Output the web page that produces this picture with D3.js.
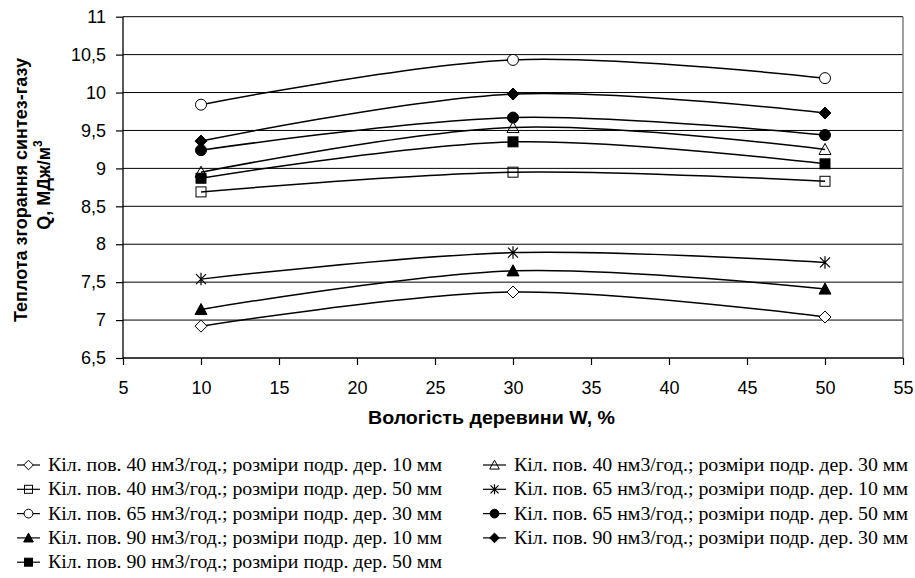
<!DOCTYPE html>
<html>
<head>
<meta charset="utf-8">
<script src="https://cdn.jsdelivr.net/npm/d3@7"></script>
<style>
  html, body { margin: 0; padding: 0; background: #fff; }
  svg { display: block; }
</style>
</head>
<body>
<svg id="chart" width="915" height="578"></svg>
<script>
// ---- Data ----
const moisture = [10, 30, 50];
const xTicks = [5, 10, 15, 20, 25, 30, 35, 40, 45, 50, 55];
const yTicks = [6.5, 7, 7.5, 8, 8.5, 9, 9.5, 10, 10.5, 11];

const seriesNames = [
  "Кіл. пов. 40 нм3/год.; розміри подр. дер. 10 мм",
  "Кіл. пов. 40 нм3/год.; розміри подр. дер. 50 мм",
  "Кіл. пов. 65 нм3/год.; розміри подр. дер. 30 мм",
  "Кіл. пов. 90 нм3/год.; розміри подр. дер. 10 мм",
  "Кіл. пов. 90 нм3/год.; розміри подр. дер. 50 мм",
  "Кіл. пов. 40 нм3/год.; розміри подр. дер. 30 мм",
  "Кіл. пов. 65 нм3/год.; розміри подр. дер. 10 мм",
  "Кіл. пов. 65 нм3/год.; розміри подр. дер. 50 мм",
  "Кіл. пов. 90 нм3/год.; розміри подр. дер. 30 мм"
];
const s40_10 = [6.92, 7.37, 7.04];
const s40_50 = [8.69, 8.95, 8.83];
const s65_30 = [9.84, 10.43, 10.19];
const s90_10 = [7.14, 7.65, 7.41];
const s90_50 = [8.87, 9.35, 9.06];
const s40_30 = [8.95, 9.54, 9.25];
const s65_10 = [7.54, 7.89, 7.76];
const s65_50 = [9.24, 9.67, 9.44];
const s90_30 = [9.36, 9.98, 9.73];
const seriesValues = [s40_10, s40_50, s65_30, s90_10, s90_50, s40_30, s65_10, s65_50, s90_30];
const seriesMarkers = ["diamondOpen", "squareOpen", "circleOpen", "triangleFilled", "squareFilled",
                       "triangleOpen", "star", "circleFilled", "diamondFilled"];

const xTitle = "Вологість деревини W, %";
const yTitle1 = "Теплота згорання синтез-газу";
const yTitle2 = "Q, МДж/м";

// ---- Layout ----
const svg = d3.select("#chart");
const L = 123, R = 903, T = 16.7, B = 358;
const x = d3.scaleLinear().domain([5, 55]).range([L, R]);
const y = d3.scaleLinear().domain([6.5, 11]).range([B, T]);
const sans = "'Liberation Sans', Arial, sans-serif";
const serif = "'Liberation Serif', 'Times New Roman', serif";

// gridlines
svg.append("g").selectAll("line").data(yTicks.filter(d => d > 6.5)).join("line")
  .attr("x1", L).attr("x2", R)
  .attr("y1", d => y(d)).attr("y2", d => y(d))
  .attr("stroke", "#000").attr("stroke-width", 1);
// right border
svg.append("line").attr("x1", R).attr("x2", R).attr("y1", T).attr("y2", B)
  .attr("stroke", "#808080").attr("stroke-width", 1.5);

// axes
const yAxis = d3.axisLeft(y).tickValues(yTicks).tickSize(7).tickPadding(10)
  .tickFormat(d => String(d).replace(".", ","));
const gy = svg.append("g").attr("transform", `translate(${L},0)`).call(yAxis);
const xAxis = d3.axisBottom(x).tickValues(xTicks).tickSize(7).tickPadding(16);
const gx = svg.append("g").attr("transform", `translate(0,${B})`).call(xAxis);
[gx, gy].forEach(g => {
  g.select(".domain").attr("stroke", "#000").attr("stroke-width", 1.3);
  g.selectAll(".tick line").attr("stroke", "#000").attr("stroke-width", 1.2);
  g.selectAll(".tick text").attr("font-family", sans).attr("font-size", 18).attr("fill", "#000");
});
gy.select(".domain").attr("d", `M0,${B}V${T}`);
gx.select(".domain").attr("d", `M${L},0H${R}`);

// titles
svg.append("text").attr("x", 368).attr("y", 424)
  .attr("font-family", sans).attr("font-size", 18).attr("font-weight", "bold")
  .attr("textLength", 247).attr("lengthAdjust", "spacingAndGlyphs")
  .text(xTitle);
const yt = svg.append("g").attr("font-family", sans).attr("font-size", 18).attr("font-weight", "bold");
yt.append("text").attr("transform", "translate(27,190) rotate(-90)").attr("text-anchor", "middle")
  .text(yTitle1);
const yt2 = yt.append("text").attr("transform", "translate(50,185) rotate(-90)").attr("text-anchor", "middle");
yt2.append("tspan").text(yTitle2);
yt2.append("tspan").attr("font-size", 12).attr("dy", -8).text("3");

// marker drawer
function drawMarker(g, type, cx, cy, k) {
  const s = k || 1;
  const filled = type.endsWith("Filled");
  const fill = filled ? "#000" : (type === "squareOpen" || type === "triangleOpen" ? "none" : "#fff");
  if (type.startsWith("diamond")) {
    const a = 6 * s;
    g.append("path").attr("d", `M${cx},${cy - a}L${cx + a},${cy}L${cx},${cy + a}L${cx - a},${cy}Z`)
      .attr("fill", fill).attr("stroke", "#000").attr("stroke-width", 1);
  } else if (type.startsWith("square")) {
    const a = 5 * s;
    g.append("rect").attr("x", cx - a).attr("y", cy - a).attr("width", 2 * a).attr("height", 2 * a)
      .attr("fill", fill).attr("stroke", "#000").attr("stroke-width", 1);
  } else if (type.startsWith("circle")) {
    g.append("circle").attr("cx", cx).attr("cy", cy).attr("r", 5.5 * s)
      .attr("fill", fill).attr("stroke", "#000").attr("stroke-width", 1);
  } else if (type.startsWith("triangle")) {
    const a = 6 * s;
    g.append("path").attr("d", `M${cx},${cy - a}L${cx + a},${cy + a * 0.85}L${cx - a},${cy + a * 0.85}Z`)
      .attr("fill", fill).attr("stroke", "#000").attr("stroke-width", 1);
  } else if (type === "star") {
    const a = 5 * s;
    g.append("path").attr("d",
      `M${cx - a},${cy - a}L${cx + a},${cy + a}M${cx - a},${cy + a}L${cx + a},${cy - a}M${cx},${cy - a * 1.25}L${cx},${cy + a * 1.25}`)
      .attr("fill", "none").attr("stroke", "#000").attr("stroke-width", 1.2);
  }
}

// lines
const line = d3.line().x((d, i) => x(moisture[i])).y(d => y(d)).curve(d3.curveCardinal.tension(0));
const gl = svg.append("g");
seriesValues.forEach(vals => {
  gl.append("path").attr("d", line(vals)).attr("fill", "none")
    .attr("stroke", "#000").attr("stroke-width", 1.5);
});
const gm = svg.append("g");
seriesValues.forEach((vals, si) => {
  vals.forEach((v, i) => drawMarker(gm, seriesMarkers[si], x(moisture[i]), y(v), 1));
});

// legend
const lg = svg.append("g").attr("font-family", serif).attr("font-size", 18.5);
const rows = 5;
seriesNames.forEach((name, i) => {
  const col = Math.floor(i / rows), row = i % rows;
  const lx = col === 0 ? 17 : 483;
  const ly = 465 + row * 24.3;
  lg.append("line").attr("x1", lx).attr("x2", lx + 23).attr("y1", ly).attr("y2", ly)
    .attr("stroke", "#000").attr("stroke-width", 1.2);
  drawMarker(lg, seriesMarkers[i], lx + 11.5, ly, 0.8);
  lg.append("text").attr("x", lx + 31).attr("y", ly + 6)
    .attr("textLength", 394).attr("lengthAdjust", "spacingAndGlyphs").text(name);
});
</script>
</body>
</html>
